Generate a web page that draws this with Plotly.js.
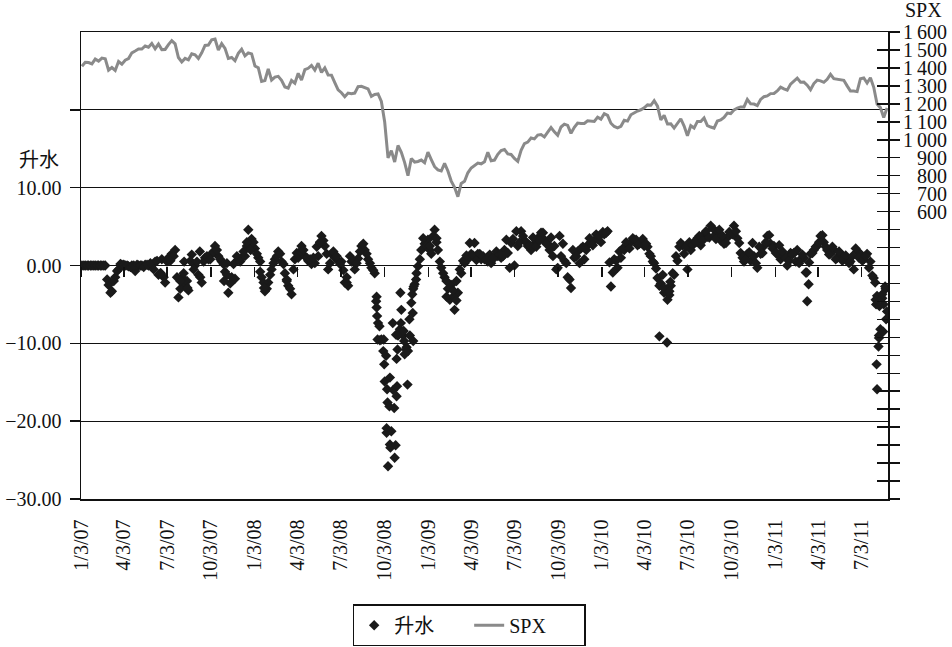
<!DOCTYPE html>
<html>
<head>
<meta charset="utf-8">
<script src="https://cdn.plot.ly/plotly-3.0.1.min.js"></script>
<style>
html, body { margin: 0; padding: 0; background: #fff; }
#chart { width: 952px; height: 647px; }
</style>
</head>
<body>
<div id="chart"></div>
<script>
// weekly SPX closes (Fridays, first one 2007-01-05)
var spx2007 = [1409,1431,1430,1422, 1449,1438,1455,1451, 1387,1402,1386,1436,1421, 1443,1452,1484,1494,
  1505,1505,1522,1515, 1536,1507,1533,1502,1503, 1530,1552,1534,1458, 1433,1453,1445,1479,1473,
  1453,1484,1525,1527, 1557,1561,1500,1535, 1509,1453,1458,1440,1481, 1504,1467,1484,1478];
var spx2008 = [1411,1401,1325,1330, 1395,1332,1349,1353,1331, 1294,1288,1330,1315, 1370,1332,1390,1398,
  1414,1388,1426,1375,1400, 1361,1360,1318,1278, 1262,1240,1260,1257, 1260,1296,1298,1292,1283,
  1242,1252,1255,1213, 1099,899,940,876,968, 930,873,800,896, 876,879,887,872];
var spx2009 = [931,890,850,832,826, 869,826,770,735, 683,757,769,816, 843,857,870,866,
  878,930,883,887,919, 940,946,921,918, 896,880,941,979,987, 1010,1005,1026,1029,
  1016,1042,1068,1044, 1025,1071,1087,1080,1036, 1069,1093,1091,1091, 1106,1106,1102,1126,1115];
var spx2010 = [1145,1136,1092,1074, 1066,1075,1109,1104, 1139,1150,1160,1167, 1178,1194,1192,1217,1187,
  1111,1136,1088,1089, 1065,1092,1117,1076, 1022,1078,1065,1102,1102, 1122,1079,1071,1065,
  1104,1110,1125,1149, 1146,1166,1176,1183,1183, 1225,1200,1199,1190, 1225,1240,1244,1257,1258];
var spx2011 = [1272,1293,1283,1276, 1310,1329,1343,1320, 1321,1304,1279,1313, 1332,1328,1320,1337,1364,
  1340,1338,1333,1331, 1300,1271,1271,1268, 1340,1344,1316,1345,1292, 1199,1179,1124,1177];

// premium (升水) on the same Fridays
var prem2007 = [0,0,0,0, 0,0,0,0, -2.5,-3.3,-1.5,-0.5,0.1, 0,-0.1,0,-0.7, 0,0,0.1,0,
  0,0.5,-1.2,0.8,-2.2, 1.0,1.5,2.0,-4.1, -1.5,-2.5,-3.2,1.4,0, -1.2,-2.2,1.0,0.8,
  1.5,2.5,1.2,0.5, -0.8,-3.5,-1.5,-1.7,0.8, 1.0,1.2,4.6,3.4];
var prem2008 = [2.2,1.0,-1.5,-3.3, -2.2,-0.5,0.8,1.8,0.5, -1.0,-2.6,-3.7,0.8, 1.0,2.5,1.2,0.6,
  0.2,0.3,1.2,3.8,2.5, -0.5,1.5,1.0,0.6, 0.5,-2.2,-2.6,0.5, -0.5,0.9,2.5,2.0,0.8,
  -0.3,-1.0,-7.4,-9.5, -14.9,-25.8,-21.3,-24.7,-9.0, -5.7,-11.4,-11.0,-4.8, -2.4,-0.1,2.0,2.8];
var prem2009 = [3.3,1.5,4.6,2.0,-0.3, -1.5,-3.0,-2.5,-5.7, -3.5,-1.0,0.3,0.8, 1.5,2.9,1.5,0.8,
  0.8,0.5,0.3,1.0,1.2, 1.0,2.0,1.6,2.9, 0.0,2.5,4.4,3.2,2.5, 2.0,2.8,3.5,4.2,
  3.3,2.8,3.6,2.5, -0.3,1.2,0.6,-1.5,-2.9, 1.0,1.8,2.2,0.8, 2.6,3.0,3.2,3.4,3.0];
var prem2010 = [4.0,4.4,-2.7,0.8, -0.3,1.0,2.0,2.5, 3.0,3.3,2.6,3.0, 2.5,2.4,1.2,0.3,-1.6,
  -2.3,-3.5,-4.4,-2.6, -1.2,0.6,2.9,1.5, -0.5,2.0,3.0,3.5,2.6, 4.0,3.7,5.1,3.8,
  4.3,3.2,2.8,3.6, 4.0,5.1,3.5,1.6,0.5, 1.5,0.6,1.2,-0.3, 1.5,2.5,3.8,2.8,2.5];
var prem2011 = [1.5,0.8,1.2,0.0, 1.6,1.6,2.0,0.8, 1.0,-4.6,1.5,2.0, 2.5,3.8,3.0,2.0,1.5,
  2.0,1.0,1.5,1.0, 0.8,0.5,-0.5,1.8, 1.5,0.8,1.5,0.5,-1.6, -3.9,-8.2,-5.0,-5.9];

// premium on the Tuesday before each of those Fridays
var mid2007 = [0,0,0,0,0,0,0,0, -1.8,-3.5,-2.0,-0.7,0.2, 0.1,0,-0.2,0,0.1,0,-0.2,0.1,0.3,
  -0.5,0.6,-1.0,-1.5,0.5,1.0,1.2,-1.5, -3.0,-1.0,-2.0,0.6,-0.5,0.5,-1.5,0.5,1.2,0.8,
  1.8,2.0,0.8,0.2,-1.2,-2.3,0.2,1.2,0.5,1.8,2.5,2.2];
var mid2008 = [3.0,1.5,0.5,-2.2,-3.0,-1.2,0.3,1.2,1.5,0.2,-1.8,-3.0,
  -0.5,1.6,1.8,2.0,1.0,0.8,1.0,2.4,3.0,3.2,1.5,0.3,
  1.8,1.2,0.2,-0.6,-2.2,1.2,0.6,0.3,1.8,2.8,1.5,0.3,
  -0.6,-4.0,-9.6,-11.0,-21.5,-23.0,-16.0,-12.0,-8.2,-9.0,-10.5,-9.0,-3.0,-1.0,0.8,3.5];
var mid2009 = [2.5,2.0,3.8,3.0,0.5,-1.0,-2.0,-4.4,-4.0,-2.0,-0.5,0.6,
  1.3,2.9,1.3,0.7,1.5,1.2,0.8,1.4,1.0,1.8,1.4,1.2,
  3.3,-0.3,3.4,4.4,3.0,3.8,3.0,2.6,3.6,2.4,3.2,4.2,
  2.8,2.0,1.2,-0.5,3.8,2.8,0.3,-1.8,2.0,1.2,0.3,2.4,2.0,3.5,2.6,4.0,3.8];
var mid2010 = [4.3,4.2,0.4,-0.9,0.6,1.8,2.2,3.0,2.2,3.5,3.3,2.8,
  3.4,2.8,1.5,0.5,-0.4,-2.6,-1.2,-3.0,-3.8,-1.0,1.2,2.4,
  2.6,2.4,3.0,2.6,3.0,3.8,3.2,4.4,3.6,4.8,3.4,4.6,
  3.8,2.9,4.3,4.0,4.4,2.9,1.0,0.8,1.7,2.9,0.3,2.4,1.6,3.0,3.9,2.2];
var mid2011 = [1.6,2.6,1.8,1.0,0.6,1.4,0.5,0.3,1.4,-0.9,0.4,1.6,
  2.4,3.0,3.9,2.4,1.4,2.4,0.8,1.8,0.6,1.3,0.3,1.2,
  2.2,1.0,0.6,1.2,-0.3,-1.3,-4.4,-9.0,-4.2,-3.0];

// extra premium readings where the cloud is densest
var extraDates = ['2007-06-20','2007-07-10','2007-07-31','2007-08-08','2007-08-15','2007-09-10',
  '2007-10-31','2007-11-06','2007-12-18','2007-12-26','2008-01-15','2008-01-23','2008-03-11',
  '2008-05-20','2008-07-15',
  '2008-09-15','2008-09-16','2008-09-17','2008-09-18','2008-09-22','2008-10-01','2008-10-02',
  '2008-10-06','2008-10-07','2008-10-08','2008-10-09','2008-10-13','2008-10-14','2008-10-15',
  '2008-10-20','2008-10-23','2008-10-26','2008-10-27','2008-10-28','2008-10-29','2008-10-30',
  '2008-11-03','2008-11-05','2008-11-06','2008-11-12','2008-11-13','2008-11-17','2008-11-20',
  '2008-11-24','2008-11-30','2008-12-01','2008-12-02','2008-12-03','2008-12-08',
  '2009-01-06','2009-01-20','2009-02-10','2009-02-24','2009-03-03',
  '2010-05-04','2010-05-13','2010-05-20','2010-05-25','2010-05-27',
  '2011-03-10','2011-03-14','2011-08-01','2011-08-03','2011-08-04','2011-08-05','2011-08-08',
  '2011-08-09','2011-08-10','2011-08-16','2011-08-18','2011-08-22','2011-08-24'];
var extraPrem = [-1.0,0.6,-2.0,0.5,-2.9,1.8,
  -2.0,0.3,3.0,2.0,-0.8,-2.9,-2.0,
  3.0,-1.5,
  -4.6,-5.4,-6.5,-9.5,-7.8,-9.5,-12.7,
  -11.6,-20.9,-15.9,-17.6,-18.1,-14.4,-23.4,
  -7.4,-18.3,-23.1,-8.9,-16.8,-15.5,-10.8,
  -8.7,-3.5,-7.4,-8.4,-9.7,-10.8,-15.3,
  -6.9,-3.7,-6.1,-9.7,-2.7,-1.8,
  2.5,3.5,-4.0,-3.2,-4.5,
  -9.1,-2.9,-9.9,-3.3,-2.1,
  -0.9,-2.4,-2.2,-5.0,-12.7,-15.9,-10.4,
  -9.3,-5.2,-3.7,-8.5,-2.7,-6.9];

var tickDates = ['2007-01-03','2007-04-03','2007-07-03','2007-10-03','2008-01-03','2008-04-03',
  '2008-07-03','2008-10-03','2009-01-03','2009-04-03','2009-07-03','2009-10-03','2010-01-03',
  '2010-04-03','2010-07-03','2010-10-03','2011-01-03','2011-04-03','2011-07-03'];
var tickLabels = ['1/3/07','4/3/07','7/3/07','10/3/07','1/3/08','4/3/08','7/3/08','10/3/08',
  '1/3/09','4/3/09','7/3/09','10/3/09','1/3/10','4/3/10','7/3/10','10/3/10','1/3/11','4/3/11','7/3/11'];

var leftVals = [-30, -20, -10, 0, 10, 20];
var leftText = ['\u221230.00', '\u221220.00', '\u221210.00', '0.00', '10.00', ''];

// right axis: ticks every 100, labels only from 600 up
var spxTickVals = [];
for (var v = -1000; v <= 1600; v += 100) spxTickVals.push(v);
var spxLabelVals = [600, 700, 800, 900, 1000, 1100, 1200, 1300, 1400, 1500, 1600];
var spxLabelText = ['600', '700', '800', '900', '1\u2009000', '1\u2009100', '1\u2009200',
  '1\u2009300', '1\u2009400', '1\u2009500', '1\u2009600'];

var spx = spx2007.concat(spx2008, spx2009, spx2010, spx2011);
var prem = prem2007.concat(prem2008, prem2009, prem2010, prem2011);
var mid = mid2007.concat(mid2008, mid2009, mid2010, mid2011);

var DAY = 86400000;
var weeks = [];
var tuesdays = [];
var t0 = Date.UTC(2007, 0, 5);
for (var i = 0; i < spx.length; i++) {
  weeks.push(new Date(t0 + i * 7 * DAY).toISOString().slice(0, 10));
  tuesdays.push(new Date(t0 + (i * 7 - 3) * DAY).toISOString().slice(0, 10));
}

var xRange = ['2007-01-03', '2011-08-28'];
var ink = '#111';
var serif = '"Liberation Serif", "Times New Roman", "Noto Sans CJK SC", serif';

var premTrace = {
  x: weeks.concat(tuesdays, extraDates),
  y: prem.concat(mid, extraPrem),
  name: '升水',
  type: 'scatter',
  mode: 'markers',
  marker: {symbol: 'diamond', size: 8, color: '#1a1a1a'},
  xaxis: 'x', yaxis: 'y'
};

var spxTrace = {
  x: weeks,
  y: spx,
  name: 'SPX',
  type: 'scatter',
  mode: 'lines',
  line: {color: '#8a8a8a', width: 3},
  xaxis: 'x2', yaxis: 'y2'
};

// empty trace so the inner right ticks get drawn
var tickTrace = {x: [], y: [], xaxis: 'x2', yaxis: 'y3', showlegend: false, hoverinfo: 'skip', type: 'scatter'};

// right-aligned labels for the SPX axis, placed on its own scale
var annotations = spxLabelVals.map(function (val, k) {
  return {text: spxLabelText[k], xref: 'paper', yref: 'y2', x: 1.0745, y: val, borderpad: 0,
    xanchor: 'right', yanchor: 'middle', showarrow: false, font: {family: serif, size: 20, color: ink}};
});
annotations.push(
  {text: '升水', xref: 'paper', yref: 'paper', x: -0.052, y: 0.730, xanchor: 'center', yanchor: 'middle',
   showarrow: false, font: {family: '"Noto Sans CJK SC", sans-serif', size: 20, color: ink}},
  {text: 'SPX', xref: 'paper', yref: 'paper', x: 1.044, y: 1.048, xanchor: 'center', yanchor: 'middle',
   showarrow: false, borderpad: 0, font: {family: serif, size: 20, color: ink}}
);

var layout = {
  width: 952,
  height: 647,
  margin: {l: 81, r: 64, t: 32, b: 148},
  paper_bgcolor: '#fff',
  plot_bgcolor: '#fff',
  font: {family: serif, size: 20, color: ink},
  showlegend: true,
  legend: {
    orientation: 'h', x: 0.481, xanchor: 'center', xref: 'paper',
    y: 0.066, yanchor: 'top', yref: 'container',
    entrywidth: 70, entrywidthmode: 'pixels',
    bordercolor: ink, borderwidth: 1.5, font: {size: 20, family: serif}
  },
  xaxis: {
    type: 'date', range: xRange, tickvals: tickDates, ticktext: tickLabels, tickangle: -90,
    ticks: '', ticklabelstandoff: 11, showgrid: false, zeroline: false, automargin: false,
    showline: true, mirror: true, linecolor: ink, linewidth: 1.5
  },
  xaxis2: {
    type: 'date', range: xRange, overlaying: 'x', anchor: 'free', position: 0.5,
    tickvals: tickDates, ticks: 'outside', ticklen: 10, tickwidth: 1.5, tickcolor: ink,
    showticklabels: false, showgrid: false, zeroline: false, showline: false
  },
  yaxis: {
    range: [-30, 30], tickvals: leftVals, ticktext: leftText, automargin: false,
    ticks: 'outside', ticklen: 10, tickwidth: 1.5, tickcolor: ink, ticklabelstandoff: 4,
    showgrid: true, gridcolor: ink, gridwidth: 1.3, zeroline: false,
    showline: true, linecolor: ink, linewidth: 1.5
  },
  yaxis2: {
    range: [-1000, 1600], overlaying: 'y', side: 'right', anchor: 'x', automargin: false,
    tickvals: spxTickVals, ticks: 'outside', ticklen: 10, tickwidth: 1.5, tickcolor: ink,
    showticklabels: false, showgrid: false, zeroline: false, showline: true, linecolor: ink, linewidth: 1.5
  },
  yaxis3: {
    range: [-1000, 1600], overlaying: 'y', side: 'right', anchor: 'x', automargin: false,
    tickvals: spxTickVals, ticks: 'inside', ticklen: 11, tickwidth: 1.5, tickcolor: ink,
    showticklabels: false, showgrid: false, zeroline: false, showline: false
  },
  annotations: annotations
};

Plotly.newPlot('chart', [premTrace, spxTrace, tickTrace], layout, {displayModeBar: false, staticPlot: true});
</script>
</body>
</html>
